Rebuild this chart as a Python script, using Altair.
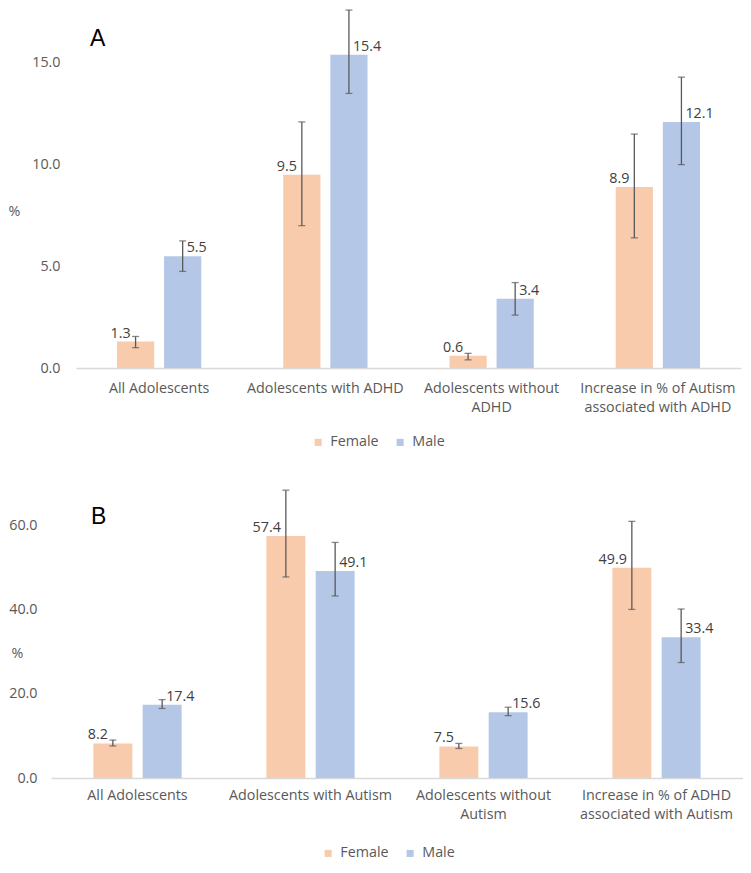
import altair as alt
import pandas as pd

# ---- Panel A data ----
cats_a = ["All Adolescents", "Adolescents with ADHD", "Adolescents without\nADHD",
          "Increase in % of Autism\nassociated with ADHD"]
female_a = [1.3, 9.5, 0.6, 8.9]
female_a_lo = [1.0, 7.0, 0.4, 6.4]
female_a_hi = [1.55, 12.1, 0.72, 11.5]
male_a = [5.5, 15.4, 3.4, 12.1]
male_a_lo = [4.75, 13.5, 2.6, 10.0]
male_a_hi = [6.25, 17.6, 4.2, 14.3]

# ---- Panel B data ----
cats_b = ["All Adolescents", "Adolescents with Autism", "Adolescents without\nAutism",
          "Increase in % of ADHD\nassociated with Autism"]
female_b = [8.2, 57.4, 7.5, 49.9]
female_b_lo = [7.6, 47.7, 7.0, 40.0]
female_b_hi = [9.0, 68.3, 8.2, 60.9]
male_b = [17.4, 49.1, 15.6, 33.4]
male_b_lo = [16.5, 43.2, 14.8, 27.4]
male_b_hi = [18.6, 55.9, 16.8, 40.1]

ticks_a = [0, 5, 10, 15]
ticks_b = [0, 20, 40, 60]
sexes = ["Female", "Male"]
colors = ["#F8CBAD", "#B4C7E7"]

FONT = "Open Sans"
GREY = "#595959"
FS = 14.3


def make_df(cats, f, flo, fhi, m, mlo, mhi):
    rows = []
    for i, c in enumerate(cats):
        rows.append({"category": c, "sex": "Female", "value": f[i], "lo": flo[i], "hi": fhi[i]})
        rows.append({"category": c, "sex": "Male", "value": m[i], "lo": mlo[i], "hi": mhi[i]})
    return pd.DataFrame(rows)


def panel(df, cats, ymax, yticks, x_range, pinner, pouter, height,
          y_offset, label_pad, title_x, title_y, letter, letter_x, letter_y,
          xlabel_pad, legend_x, legend_y):
    if x_range is not None:
        xscale = alt.Scale(paddingInner=pinner, paddingOuter=pouter, range=x_range)
    else:
        xscale = alt.Scale(paddingInner=pinner, paddingOuter=pouter)
    base = alt.Chart(df).encode(
        x=alt.X("category:N", sort=cats, scale=xscale,
                axis=alt.Axis(title=None, labelAngle=0, ticks=False,
                              domainColor="#D9D9D9", domainWidth=1.5,
                              labelFont=FONT, labelFontSize=FS, labelColor=GREY,
                              labelPadding=xlabel_pad, labelLineHeight=19,
                              labelLimit=0,
                              labelExpr="split(datum.label, '\\n')")),
        xOffset=alt.XOffset("sex:N", sort=sexes,
                            scale=alt.Scale(paddingInner=0.21, paddingOuter=0)),
    )
    yscale = alt.Scale(domain=[0, ymax], nice=False)
    yaxis = alt.Axis(values=yticks, format=".1f", grid=False, ticks=False, domain=False,
                     labelFont=FONT, labelFontSize=FS, labelColor=GREY,
                     labelPadding=label_pad, offset=y_offset,
                     title="%", titleAngle=0, titleFont=FONT, titleFontSize=FS,
                     titleFontWeight="normal", titleColor=GREY,
                     titleX=title_x, titleY=title_y, titleAlign="left",
                     titleBaseline="middle")
    bars = base.mark_bar().encode(
        y=alt.Y("value:Q", scale=yscale, axis=yaxis),
        color=alt.Color("sex:N", sort=sexes,
                        scale=alt.Scale(domain=sexes, range=colors),
                        legend=alt.Legend(title=None, orient="none", direction="horizontal",
                                          legendX=legend_x, legendY=legend_y,
                                          symbolType="square", symbolSize=50,
                                          symbolStrokeWidth=0, labelFont=FONT,
                                          labelFontSize=FS, labelColor=GREY,
                                          labelOffset=5, columnPadding=14)),
    )
    rules = base.mark_rule(color=GREY, strokeWidth=1.3).encode(
        y=alt.Y("lo:Q", scale=yscale), y2="hi:Q")
    cap_lo = base.mark_tick(orient="horizontal", size=7, thickness=1.3, color=GREY).encode(
        y=alt.Y("lo:Q", scale=yscale))
    cap_hi = base.mark_tick(orient="horizontal", size=7, thickness=1.3, color=GREY).encode(
        y=alt.Y("hi:Q", scale=yscale))
    txt_f = base.transform_filter(alt.datum.sex == "Female").mark_text(
        align="right", baseline="alphabetic", dx=-5, dy=-4, font=FONT, fontSize=FS,
        color="#404040").encode(y=alt.Y("value:Q", scale=yscale),
                                text=alt.Text("value:Q", format=".1f"))
    txt_m = base.transform_filter(alt.datum.sex == "Male").mark_text(
        align="left", baseline="alphabetic", dx=4, dy=-4, font=FONT, fontSize=FS,
        color="#404040").encode(y=alt.Y("value:Q", scale=yscale),
                                text=alt.Text("value:Q", format=".1f"))
    let = alt.Chart(pd.DataFrame({"t": [letter]})).mark_text(
        align="left", baseline="alphabetic", font="Liberation Sans", fontSize=23,
        color="black").encode(x=alt.value(letter_x), y=alt.value(letter_y), text="t:N")
    return alt.layer(bars, rules, cap_lo, cap_hi, txt_f, txt_m, let).properties(
        width=692, height=height)


df_a = make_df(cats_a, female_a, female_a_lo, female_a_hi, male_a, male_a_lo, male_a_hi)
df_b = make_df(cats_b, female_b, female_b_lo, female_b_hi, male_b, male_b_lo, male_b_hi)

chart_a = panel(df_a, cats_a, 17.7, ticks_a, [25, 690], 0.493, 0.2465, 360,
                -25, 16, -68, 203, "A", 39, 38, 13, 260, 427)
chart_b = panel(df_b, cats_b, 70, ticks_b, None, 0.49, 0.245, 295,
                0, 14, -40, 170, "B", 40, 41, 10, 270, 363)

chart = alt.vconcat(chart_a, chart_b, spacing=33).resolve_scale(
    color="independent", x="independent", y="independent", xOffset="independent"
).properties(padding=0, background="white").configure_view(stroke=None)

chart.save("out.html", embed_options={"renderer": "svg", "actions": False})
